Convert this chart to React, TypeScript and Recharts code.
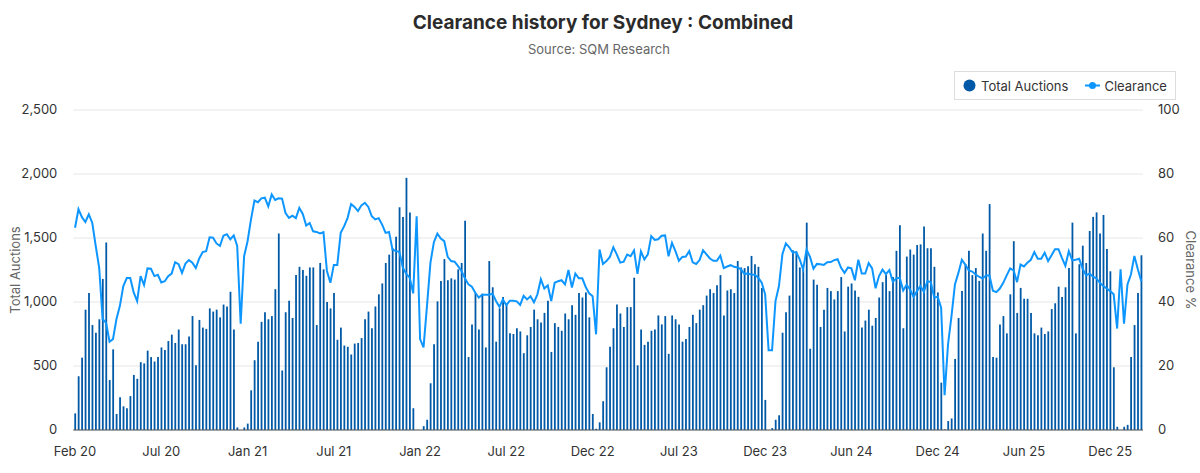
import React from 'react';
import { ComposedChart, Bar, Line, XAxis, YAxis, CartesianGrid, Label } from 'recharts';

const tickLabels = ['Feb 20', 'Jul 20', 'Jan 21', 'Jul 21', 'Jan 22', 'Jul 22', 'Dec 22', 'Jul 23', 'Dec 23', 'Jun 24', 'Dec 24', 'Jun 25', 'Dec 25'];
const auctionTicks = [0, 500, 1000, 1500, 2000, 2500];
const clearanceTicks = [0, 20, 40, 60, 80, 100];

const totalAuctions = [
  130, 420, 565, 940, 1070, 820, 760, 865, 1180, 1465, 390, 630, 125, 255, 185, 170, 265, 430, 400, 530,
  520, 620, 570, 535, 570, 645, 625, 695, 745, 680, 785, 670, 670, 730, 890, 505, 860, 800, 790, 950,
  925, 940, 880, 980, 965, 1080, 785, 20, 0, 20, 50, 310, 545, 690, 845, 920, 865, 890, 1100, 1535,
  465, 920, 1010, 875, 1210, 1275, 1250, 1205, 1270, 1270, 820, 1305, 1255, 1000, 950, 1070, 705, 800, 660, 650,
  590, 675, 680, 718, 865, 925, 795, 965, 1060, 1145, 1305, 1370, 1420, 1510, 1740, 1665, 1970, 1700, 170, 0,
  0, 30, 80, 365, 670, 1005, 1165, 1335, 1170, 1185, 1175, 1255, 1305, 1635, 570, 825, 1070, 785, 1065, 645,
  1320, 1115, 690, 950, 1040, 980, 755, 750, 795, 770, 600, 740, 805, 940, 865, 840, 915, 1010, 610, 835,
  805, 775, 910, 865, 975, 900, 1070, 1035, 1075, 880, 125, 10, 60, 225, 490, 650, 795, 980, 910, 805,
  960, 960, 1190, 505, 785, 665, 690, 775, 785, 895, 825, 890, 595, 895, 865, 825, 690, 710, 805, 900,
  835, 940, 975, 1050, 1100, 1070, 1130, 1210, 895, 1090, 1100, 1070, 1320, 1270, 1265, 1280, 1360, 1295, 1275, 1110,
  235, 0, 15, 80, 115, 760, 920, 1050, 1405, 1395, 1270, 1255, 1620, 635, 1175, 1135, 805, 940, 1110, 1085,
  1020, 1085, 1195, 770, 1120, 1145, 1090, 1040, 800, 855, 940, 815, 875, 1035, 1155, 1210, 1085, 1195, 1400, 1600,
  795, 1355, 1410, 1370, 1445, 1450, 1590, 1420, 1420, 1275, 1075, 370, 5, 70, 90, 555, 875, 1085, 1295, 1400,
  1210, 1265, 1165, 1535, 1400, 1765, 570, 565, 825, 890, 755, 1060, 1475, 915, 1110, 1025, 1025, 915, 755, 740,
  800, 750, 770, 945, 990, 1120, 1040, 1115, 1265, 1620, 755, 1295, 1440, 1305, 1555, 1665, 1700, 1535, 1680, 1415,
  1240, 490, 25, 0, 25, 40, 570, 820, 1070, 1365,
];

const clearance = [
  63.2, 69, 66.5, 65, 67.4, 64.7, 57.5, 50.7, 34.6, 33.5, 27.6, 28.4, 34.6, 38.8, 45, 47.5, 47.5, 43, 40.3, 48.1,
  45.3, 50.5, 50.4, 48.1, 48.5, 46.1, 46.5, 48.1, 48.9, 52.4, 51.8, 49.1, 52, 53.1, 52.3, 50.6, 53.6, 55.6, 55.9, 60.2,
  60.1, 58.3, 57.5, 60.7, 61.2, 59.6, 60.8, 57.5, 33.2, 54.3, 59, 65.8, 71.7, 71.2, 72.4, 72.6, 69.9, 73.6, 71.9, 72.4,
  72.3, 67.8, 66.3, 67, 66.2, 69.4, 67.5, 63.9, 64.7, 62.1, 61.9, 61.4, 61.8, 49.7, 46, 51.6, 51.6, 61.6, 63.7, 66.3,
  70.6, 69.7, 68.4, 70.2, 71, 69.7, 66.8, 65.8, 66.2, 64.2, 61.6, 61.9, 56.4, 55.9, 55.7, 50.7, 48.8, 47.6, 42.7, 66.8,
  28.4, 25.8, 38.8, 52.3, 58.7, 61.4, 59.8, 59, 54.1, 52.8, 52.6, 51.2, 49.7, 47.4, 45.5, 44.8, 42.9, 41.4, 42.3, 42.3,
  42.3, 42.6, 40.3, 38.5, 40.8, 39, 40.4, 40.4, 40.2, 39.1, 41.9, 40.8, 41.8, 39.9, 42.4, 47.1, 44.2, 45.2, 40.3, 46,
  46.5, 46.8, 45.5, 50, 44.5, 48.9, 47.4, 47.4, 44.7, 42.7, 41.8, 29.9, 56.4, 51.9, 52.8, 54.1, 57.1, 54.9, 52.3, 52.6,
  54.8, 54.3, 56.1, 48.8, 55.8, 53.3, 54.9, 60.6, 59.4, 59.6, 60.7, 60.8, 54.3, 58.5, 55.9, 52.9, 54.1, 54.2, 55.9, 52.4,
  51.9, 53.1, 56.2, 54.9, 53.6, 52.9, 52.9, 54.5, 50.6, 51.1, 51.5, 51, 50.8, 50.2, 48.8, 48.9, 48.6, 48.5, 47.6, 46,
  42.4, 24.9, 24.9, 40.3, 45, 54.9, 58.3, 57.1, 55.4, 55.6, 53.3, 50.2, 56.4, 54.1, 50.4, 51.9, 51.8, 51.6, 52.4, 52.5,
  53.1, 53.4, 50.7, 49.1, 50.8, 50.5, 46.8, 53.2, 48.9, 48.9, 52.2, 50.5, 44.3, 48.1, 50.1, 48.7, 50, 46.3, 47.4, 47.6,
  43.6, 45.4, 43.9, 41.6, 43.4, 45, 43.2, 46.5, 46.2, 41.4, 41.6, 38.2, 10.9, 26.8, 35.6, 45.5, 49.1, 53.2, 51.7, 49.9,
  49.5, 48.6, 47.9, 47.3, 48.3, 48.3, 43.5, 43.1, 44.2, 46, 48.3, 50.5, 49.9, 46.2, 51.7, 51.1, 52.3, 53.2, 55.6, 53.5,
  53.5, 55.4, 52.8, 54.6, 56.5, 56.5, 53.8, 51.3, 55.9, 53, 53.2, 53.5, 50.4, 48.3, 48.9, 47.9, 47.4, 46, 45, 44.2,
  43.4, 42.4, 31.7, 50.2, 33.2, 45.5, 48.6, 54.4, 50.2, 46.5,
];

const data = totalAuctions.map((auctions, i) => ({ week: i, auctions, clearance: clearance[i] }));

const FONT = 'Inter, sans-serif';
const TEXT = '#333333';

function ChartLegend() {
  return (
    <div
      style={{
        position: 'absolute',
        left: 954,
        top: 71,
        zIndex: 1,
        display: 'flex',
        alignItems: 'center',
        boxSizing: 'border-box',
        width: 222,
        height: 29,
        border: '1px solid #dddddd',
        background: '#fff',
        paddingLeft: 8,
        fontSize: 13,
        fontFamily: FONT,
        color: TEXT,
      }}
    >
      <svg width={13} height={13} style={{ marginRight: 5 }}>
        <circle cx={6.5} cy={6.5} r={6} fill="#0059a6" />
      </svg>
      <span style={{ marginRight: 17 }}>Total Auctions</span>
      <svg width={15} height={9} style={{ marginRight: 4 }}>
        <line x1={0} x2={15} y1={4.5} y2={4.5} stroke="#0d96ff" strokeWidth={2} />
        <circle cx={7.5} cy={4.5} r={3.5} fill="#0d96ff" />
      </svg>
      <span>Clearance</span>
    </div>
  );
}

export default function App() {
  return (
    <div style={{ position: 'absolute', left: 0, top: 0, width: 1200, height: 473, background: '#fff', fontFamily: FONT }}>
      <div style={{ position: 'absolute', left: 0, width: 1206, top: 11, textAlign: 'center', fontSize: 19, fontWeight: 700, color: '#2b2b2b', whiteSpace: 'nowrap' }}>
        Clearance history for Sydney : Combined
      </div>
      <div style={{ position: 'absolute', left: 0, width: 1198, top: 41, textAlign: 'center', fontSize: 13, color: '#666666' }}>
        Source: SQM Research
      </div>
      <ChartLegend />
      <ComposedChart
        width={1200}
        height={473}
        data={data}
        margin={{ top: 110, right: 0, bottom: 0, left: 13 }}
        barCategoryGap={0}
      >
        <CartesianGrid yAxisId="left" vertical={false} stroke="#e6e6e6" />
        <XAxis
          dataKey="week"
          height={43}
          interval={24}
          axisLine={{ stroke: '#555555' }}
          tickLine={false}
          tickMargin={11}
          tick={{ fill: TEXT, fontSize: 13, fontFamily: FONT }}
          tickFormatter={(_v: number, i: number) => tickLabels[i]}
        />
        <YAxis
          yAxisId="left"
          width={60.3}
          domain={[0, 2500]}
          ticks={auctionTicks}
          axisLine={false}
          tickLine={false}
          tickMargin={10}
          tick={{ fill: TEXT, fontSize: 13, fontFamily: FONT, dy: -1 }}
          tickFormatter={(v: number) => v.toLocaleString('en-US')}
        >
          <Label value="Total Auctions" angle={-90} position="insideLeft" offset={2} style={{ fill: '#666666', fontSize: 13, fontFamily: FONT, textAnchor: 'middle' }} />
        </YAxis>
        <YAxis
          yAxisId="right"
          orientation="right"
          width={57}
          domain={[0, 100]}
          ticks={clearanceTicks}
          axisLine={false}
          tickLine={false}
          tickMargin={9}
          tick={{ fill: TEXT, fontSize: 13, fontFamily: FONT, dy: -1 }}
        >
          <Label value="Clearance %" angle={90} position="insideRight" offset={9} style={{ fill: '#666666', fontSize: 13, fontFamily: FONT, textAnchor: 'middle' }} />
        </YAxis>
        <Bar yAxisId="left" dataKey="auctions" name="Total Auctions" fill="#0059a6" barSize={1.8} isAnimationActive={false} />
        <Line
          yAxisId="right"
          dataKey="clearance"
          name="Clearance"
          stroke="#0d96ff"
          strokeWidth={2}
          dot={false}
          type="linear"
          isAnimationActive={false}
        />
      </ComposedChart>
    </div>
  );
}
